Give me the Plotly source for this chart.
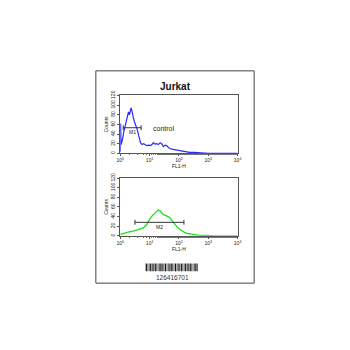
import plotly.graph_objects as go

# ---- data (log10 of FL1-H, counts) ----
ctrl_logx = [0.0, 0.01, 0.02, 0.03, 0.05, 0.08, 0.12, 0.16, 0.2, 0.24, 0.28, 0.31, 0.34, 0.37, 0.39, 0.41,
             0.44, 0.48, 0.53, 0.58, 0.63, 0.69, 0.74, 0.8, 0.86, 0.91, 0.97, 1.03, 1.08, 1.13, 1.18,
             1.24, 1.3, 1.36, 1.41, 1.47, 1.53, 1.58, 1.64, 1.69, 1.8, 1.9, 2.0, 2.13, 2.25, 2.36, 2.5,
             2.65, 2.8, 3.0, 3.3, 3.6, 4.0]
ctrl_counts = [3, 62, 35, 18, 22, 30, 45, 55, 68, 78, 86, 80, 88, 94, 90, 82,
               75, 66, 58, 49, 36, 22, 18, 20, 17, 16, 17, 16, 18, 22, 19,
               20, 18, 22, 20, 14, 17, 16, 12, 10, 8, 7, 6, 4, 3, 2, 2,
               1, 1, 0, 0, 0, 0]

tgt_logx = [0.0, 0.05, 0.13, 0.2, 0.28, 0.36, 0.44, 0.52, 0.58, 0.65, 0.72, 0.8, 0.86, 0.91, 0.96, 1.0,
            1.04, 1.08, 1.13, 1.19, 1.24, 1.3, 1.33, 1.36, 1.41, 1.47, 1.52, 1.58, 1.63, 1.69, 1.74,
            1.8, 1.85, 1.91, 1.96, 2.02, 2.1, 2.19, 2.27, 2.36, 2.5, 2.69, 2.9, 3.3, 4.0]
tgt_counts = [3, 4, 5, 6, 8, 9, 10, 11, 12, 13, 15, 17, 20, 24, 30, 36,
              38, 41, 44, 46, 49, 54, 52, 52, 48, 44, 43, 41, 40, 38, 33,
              28, 24, 21, 17, 14, 10, 7, 5, 4, 2, 1, 1, 0, 0]

y_ticks = [0, 20, 40, 60, 80, 100, 120]
x_ticks = [0, 1, 2, 3, 4]
x_ticktext = ["10<sup>0</sup>", "10<sup>1</sup>", "10<sup>2</sup>", "10<sup>3</sup>", "10<sup>4</sup>"]

marker1 = {"label": "M1", "x0": 0.1, "x1": 0.71, "y": 53}
marker2 = {"label": "M2", "x0": 0.5, "x1": 2.17, "y": 28}

barcode_widths = [2, 1, 1, 2, 1, 1, 2, 1, 1, 1, 2, 1, 1, 2, 1, 1, 1, 2, 1, 1, 2, 1, 1, 1, 2, 1, 1, 2, 1, 1, 2, 1, 1, 1, 2, 1]
barcode_text = "126416701"

FONT = "Liberation Sans, Arial, sans-serif"

fig = go.Figure()
fig.add_trace(go.Scatter(x=[10 ** v for v in ctrl_logx], y=ctrl_counts, mode="lines",
                         line=dict(color="#2a2aff", width=1.2), xaxis="x", yaxis="y", showlegend=False))
fig.add_trace(go.Scatter(x=[10 ** v for v in tgt_logx], y=tgt_counts, mode="lines",
                         line=dict(color="#18e018", width=1.3), xaxis="x2", yaxis="y2", showlegend=False))

for m, xa, ya in [(marker1, "x", "y"), (marker2, "x2", "y2")]:
    fig.add_trace(go.Scatter(x=[10 ** m["x0"], 10 ** m["x1"]], y=[m["y"], m["y"]], mode="lines",
                             line=dict(color="#333333", width=1), xaxis=xa, yaxis=ya, showlegend=False))
    for xv in (m["x0"], m["x1"]):
        fig.add_trace(go.Scatter(x=[10 ** xv, 10 ** xv], y=[m["y"] - 5, m["y"] + 5], mode="lines",
                                 line=dict(color="#333333", width=1), xaxis=xa, yaxis=ya, showlegend=False))
    fig.add_annotation(x=(m["x0"] + m["x1"]) / 2, y=m["y"] - 9, text=m["label"], showarrow=False,
                       xref=xa, yref=ya, font=dict(size=5, color="#222", family=FONT))

fig.add_annotation(x=1.06, y=52, text="control", showarrow=False, xref="x", yref="y", xanchor="left",
                   font=dict(size=7, color="#222", family=FONT))

ax_common = dict(type="log", range=[0, 4], tickvals=[10 ** v for v in x_ticks], ticktext=x_ticktext,
                 showgrid=False, zeroline=False, showline=True, linecolor="#555", linewidth=1, mirror=True,
                 ticks="outside", ticklen=2, tickcolor="#555", tickfont=dict(size=5, color="#222", family=FONT),
                 minor=dict(ticks="outside", ticklen=1, tickcolor="#777"),
                 title=dict(text="FL1-H", font=dict(size=5, color="#222", family=FONT), standoff=1))
ay_common = dict(range=[0, 120], tickvals=y_ticks, showgrid=False, zeroline=False, showline=True,
                 linecolor="#555", linewidth=1, mirror=True, ticks="outside", ticklen=2, tickcolor="#555",
                 tickangle=-90, tickfont=dict(size=5, color="#222", family=FONT),
                 title=dict(text="Counts", font=dict(size=5, color="#222", family=FONT), standoff=1))

fig.update_layout(
    width=350, height=350, margin=dict(l=0, r=0, t=0, b=0),
    paper_bgcolor="white", plot_bgcolor="white",
    xaxis=dict(domain=[0.34, 0.683], anchor="y", **ax_common),
    yaxis=dict(domain=[0.569, 0.737], anchor="x", **ay_common),
    xaxis2=dict(domain=[0.34, 0.683], anchor="y2", **ax_common),
    yaxis2=dict(domain=[0.329, 0.497], anchor="x2", **ay_common),
)

# outer frame
fig.add_shape(type="rect", xref="paper", yref="paper", x0=94 / 350, x1=256 / 350, y0=1 - 283 / 350, y1=1 - 67 / 350,
              line=dict(color="#444", width=1))
fig.add_annotation(x=0.5, y=1 - 75 / 350, xref="paper", yref="paper", text="<b>Jurkat</b>", showarrow=False,
                   font=dict(size=10, color="#111", family=FONT))

# barcode
total = sum(barcode_widths) + len(barcode_widths)
x_start, x_end = 145 / 350, 199 / 350
unit = (x_end - x_start) / total
pos = x_start
for i, w in enumerate(barcode_widths):
    fig.add_shape(type="rect", xref="paper", yref="paper", x0=pos, x1=pos + w * unit,
                  y0=1 - 271 / 350, y1=1 - 263 / 350, line=dict(width=0), fillcolor="#111")
    pos += (w + 1) * unit
fig.add_annotation(x=172 / 350, y=1 - 271.5 / 350, xref="paper", yref="paper", text=barcode_text,
                   showarrow=False, yanchor="top",
                   font=dict(size=6.5, color="#333", family=FONT))

fig.write_html("out.html")
